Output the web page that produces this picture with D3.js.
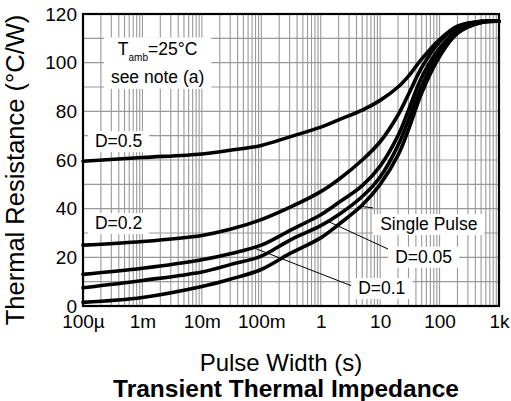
<!DOCTYPE html>
<html lang="en">
<head>
    <meta charset="UTF-8">
    <title>Transient Thermal Impedance</title>
    <style>
        body { margin: 0; background: #fff; }
        svg { display: block; font-family: Arial, "Liberation Sans", sans-serif; }
    </style>
</head>
<body>
    <svg></svg>
    <script src="https://d3js.org/d3.v7.min.js"></script>
    <script>
      // pulse widths (s) where curves were read
      const pulseWidth = [1e-4, 1e-3, 1e-2, 3e-2, 0.1, 0.3, 1, 2, 5, 10, 20, 30, 50, 100, 200, 500, 1000];

      // thermal resistance (°C/W) per duty cycle
      const d050 = [59.5, 61, 62.5, 64, 66, 69.5, 73.5, 76.5, 80.5, 84.5, 90, 94.5, 101.5, 109.5, 115, 117, 117];
      const d020 = [25, 26.5, 29, 31.5, 35.5, 40.5, 47, 52, 60, 67.5, 78.5, 87, 98, 108.5, 114.5, 117, 117];
      const d010 = [13, 15.5, 19, 21.5, 25, 31, 37.5, 42.5, 49.5, 57.5, 70, 80.5, 94, 106, 113, 116.5, 117];
      const d005 = [7.5, 10.5, 14, 17, 20.5, 27, 33, 37.5, 45, 53, 66, 76.5, 90.5, 104.5, 112.5, 116.5, 117];
      const single = [1.5, 3.5, 8, 11, 15, 21.5, 28, 33.5, 41.5, 50, 62, 72.5, 87.5, 102.5, 112, 116.5, 117];

      const xTicks = [1e-4, 1e-3, 1e-2, 1e-1, 1, 10, 100, 1000];
      const xTickLabels = ["100µ", "1m", "10m", "100m", "1", "10", "100", "1k"];
      const yTicks = [0, 20, 40, 60, 80, 100, 120];

      const width = 511;
      const height = 401;
      const padding = {top: 14, right: 12, bottom: 95, left: 83};

      const svg = d3.select('svg').attr('width', width).attr('height', height);

      const xScale = d3.scaleLog()
          .domain([1e-4, 1000])
          .range([padding.left, width - padding.right]);

      const yScale = d3.scaleLinear()
          .domain([0, 120])
          .range([height - padding.bottom, padding.top]);

      const series = [d050, d020, d010, d005, single];

      // value on a curve at pulse width t (linear in log t)
      function valueAt(values, t) {
        const lt = Math.log10(t);
        for (let i = 1; i < pulseWidth.length; i++) {
          const a = Math.log10(pulseWidth[i - 1]), b = Math.log10(pulseWidth[i]);
          if (lt <= b) return values[i - 1] + (values[i] - values[i - 1]) * (lt - a) / (b - a);
        }
        return values[values.length - 1];
      }

      // grid
      const minor = [];
      for (let e = -4; e < 3; e++) for (let m = 1; m < 10; m++) minor.push(m * Math.pow(10, e));
      minor.push(1000);

      const grid = svg.append("g").attr("class", "grid")
          .attr("stroke", "#999").attr("stroke-width", 1.1);
      grid.selectAll("line.v").data(minor).join("line").attr("class", "v")
          .attr("x1", d => xScale(d)).attr("x2", d => xScale(d))
          .attr("y1", yScale(0)).attr("y2", yScale(120));
      grid.selectAll("line.h").data(d3.range(0, 121, 10)).join("line").attr("class", "h")
          .attr("x1", xScale(1e-4)).attr("x2", xScale(1000))
          .attr("y1", d => yScale(d)).attr("y2", d => yScale(d));

      // leader lines: from a point on a curve to a label corner
      const leaders = [
        {curve: single, t: 4.7, tx: 7.6, ty: 40.3},
        {curve: d005, t: 1.32, tx: 13.6, ty: 23.4},
        {curve: d010, t: 0.072, tx: 3.38, ty: 8.2}
      ];
      svg.append("g").attr("stroke", "#000").attr("stroke-width", 1)
        .selectAll("line").data(leaders).join("line")
          .attr("x1", d => xScale(d.t)).attr("y1", d => yScale(valueAt(d.curve, d.t)))
          .attr("x2", d => xScale(d.tx)).attr("y2", d => yScale(d.ty));

      // labels with white boxes
      const labels = [
        {text: "D=0.5", t: 1.59e-4, v: 65.3},
        {text: "D=0.2", t: 1.59e-4, v: 31.6},
        {text: "Single Pulse", t: 10, v: 31.2},
        {text: "D=0.05", t: 17.9, v: 17.8},
        {text: "D=0.1", t: 4.27, v: 4.9}
      ];
      const labelG = svg.append("g").attr("font-size", 17.5);
      labels.forEach(l => {
        const g = labelG.append("g");
        const txt = g.append("text").attr("x", xScale(l.t)).attr("y", yScale(l.v)).text(l.text);
        const b = txt.node().getBBox();
        g.insert("rect", "text").attr("fill", "#fff")
          .attr("x", b.x - 7).attr("y", b.y).attr("width", b.width + 14).attr("height", b.height + 1);
      });

      // ambient note
      const note = svg.append("g").attr("font-size", 17.5).attr("text-anchor", "middle");
      const noteX = xScale(1.8e-3);
      const t1 = note.append("text").attr("x", noteX).attr("y", yScale(103));
      t1.append("tspan").text("T");
      t1.append("tspan").attr("font-size", 10).attr("dy", 6).text("amb");
      t1.append("tspan").attr("dy", -6).text("=25°C");
      note.append("text").attr("x", noteX).attr("y", yScale(91.7)).text("see note (a)");
      const nb = note.node().getBBox();
      note.insert("rect", "text").attr("fill", "#fff")
        .attr("x", nb.x - 7).attr("y", nb.y - 2).attr("width", nb.width + 14).attr("height", nb.height + 4);

      // curves
      const line = d3.line()
          .x(d => xScale(d[0]))
          .y(d => yScale(d[1]))
          .curve(d3.curveCatmullRom.alpha(0.5));
      svg.append("g").attr("class", "curves")
          .attr("fill", "none").attr("stroke", "#000").attr("stroke-width", 3.6)
          .attr("stroke-linejoin", "round").attr("stroke-linecap", "round")
        .selectAll("path").data(series).join("path")
          .attr("d", s => line(s.map((v, i) => [pulseWidth[i], v])));

      // frame
      svg.append("rect")
          .attr("x", xScale(1e-4)).attr("y", yScale(120))
          .attr("width", xScale(1000) - xScale(1e-4)).attr("height", yScale(0) - yScale(120))
          .attr("fill", "none").attr("stroke", "#000").attr("stroke-width", 2.2);

      // axes
      const xAxis = g => g
          .attr("transform", `translate(0,${yScale(0)})`)
          .call(d3.axisBottom(xScale).tickValues(xTicks).tickFormat((d, i) => xTickLabels[i]).tickSize(0).tickPadding(9))
          .call(g => g.select(".domain").remove());
      const yAxis = g => g
          .attr("transform", `translate(${xScale(1e-4)},0)`)
          .call(d3.axisLeft(yScale).tickValues(yTicks).tickSize(0).tickPadding(6))
          .call(g => g.select(".domain").remove());

      svg.append("g").call(xAxis).attr("font-size", 19).attr("font-family", null)
          .selectAll("text").attr("fill", "#000");
      svg.append("g").call(yAxis).attr("font-size", 19).attr("font-family", null)
          .selectAll("text").attr("fill", "#000");

      // titles
      svg.append("text")
          .attr("transform", "translate(24,170) rotate(-90)")
          .attr("text-anchor", "middle").attr("font-size", 25.5)
          .text("Thermal Resistance (°C/W)");
      svg.append("text")
          .attr("x", 281).attr("y", 371)
          .attr("text-anchor", "middle").attr("font-size", 24)
          .text("Pulse Width (s)");
      svg.append("text")
          .attr("x", 286).attr("y", 397)
          .attr("text-anchor", "middle").attr("font-size", 24.5).attr("font-weight", "bold")
          .text("Transient Thermal Impedance");
    </script>
</body>
</html>
